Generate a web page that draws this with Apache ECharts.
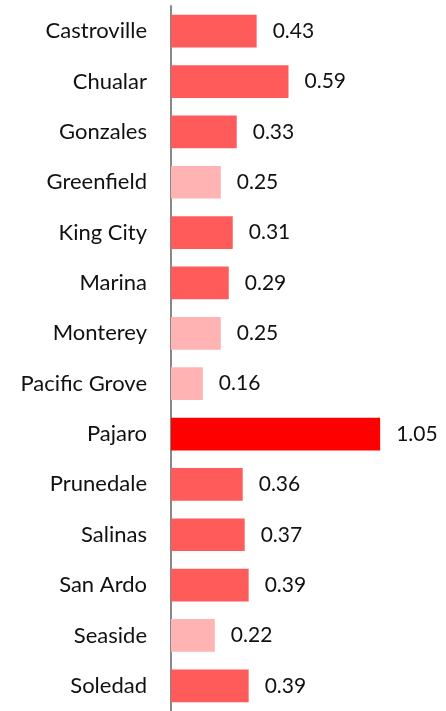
<!DOCTYPE html>
<html>
<head>
<meta charset="utf-8">
<script src="https://cdn.jsdelivr.net/npm/echarts@6/dist/echarts.min.js"></script>
<style>
  html, body { margin: 0; padding: 0; background: #fff; }
  #chart { width: 446px; height: 711px; }
</style>
</head>
<body>
<div id="chart"></div>
<script>
// towns, top to bottom
var towns = ['Castroville', 'Chualar', 'Gonzales', 'Greenfield', 'King City', 'Marina', 'Monterey',
  'Pacific Grove', 'Pajaro', 'Prunedale', 'Salinas', 'San Ardo', 'Seaside', 'Soledad']
var values = [0.43, 0.59, 0.33, 0.25, 0.31, 0.29, 0.25, 0.16, 1.05, 0.36, 0.37, 0.39, 0.22, 0.39]
// shade group for each town: 0 light, 1 mid, 2 strong
var shade = [1, 1, 1, 0, 1, 1, 0, 0, 2, 1, 1, 1, 0, 1]
var shadeColors = ['#FFB3B3', '#FF5B5B', '#FF0000']

var chart = echarts.init(document.getElementById('chart'))

chart.setOption({
  animation: false,
  textStyle: { fontFamily: 'Lato, "Open Sans", sans-serif' },
  grid: {
    left: 171,
    right: 36,
    top: 6,
    height: 709
  },
  xAxis: {
    type: 'value',
    min: 0,
    max: 1.2,
    show: false
  },
  yAxis: {
    type: 'category',
    inverse: true,
    data: towns,
    axisLine: { show: true, lineStyle: { color: '#888', width: 2 } },
    axisTick: { show: false },
    axisLabel: { color: '#111', fontSize: 22, margin: 24 }
  },
  series: [
    {
      type: 'bar',
      barCategoryGap: '35%',
      data: values.map(function (v, i) {
        return { value: v, itemStyle: { color: shadeColors[shade[i]] } }
      }),
      label: {
        show: true,
        position: 'right',
        distance: 16,
        color: '#111',
        fontSize: 21,
        formatter: function (p) { return p.value.toFixed(2) }
      }
    }
  ]
})
</script>
</body>
</html>
